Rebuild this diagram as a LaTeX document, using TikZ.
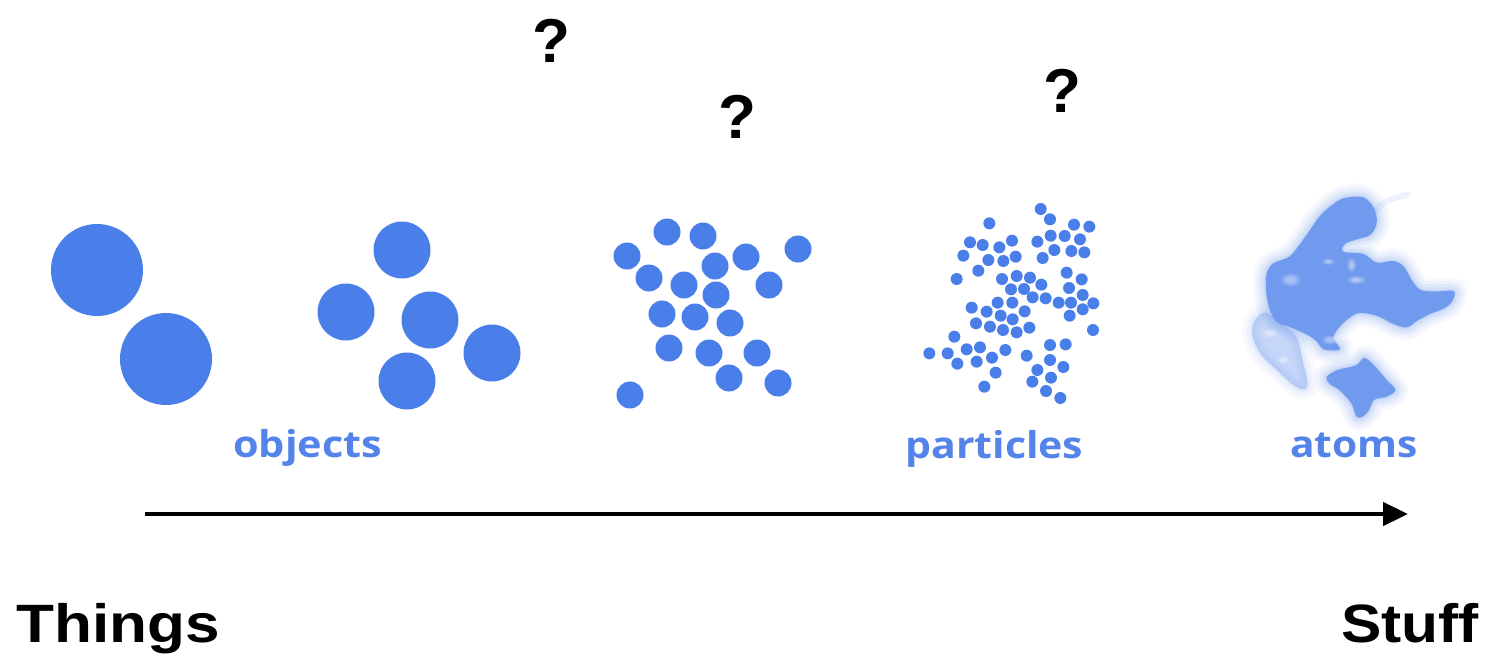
\documentclass[tikz,border=0pt]{standalone}
\usepackage{fontspec}
\setmainfont{Liberation Sans}
\newfontfamily\labelfont{Open Sans}
\usetikzlibrary{arrows.meta}
\definecolor{dotblue}{RGB}{74,127,234}
\definecolor{labelblue}{RGB}{84,132,234}
\definecolor{hazeblue}{RGB}{112,154,238}

% outlines of the diffuse "atoms" cloud, in a 3x local grid
\def\coreblob{plot[smooth cycle, tension=0.55] coordinates {
  (300,80) (340,55) (400,52) (432,85) (440,130) (420,165) (380,178)
  (345,192) (340,215) (400,222) (440,248) (490,243) (522,260) (545,300)
  (572,330) (620,334) (672,334) (665,366) (640,386) (600,402) (562,422)
  (530,442) (490,432) (452,412) (420,402) (382,400) (350,420) (325,445)
  (310,475) (330,508) (282,508) (258,482) (228,462) (182,442) (140,425)
  (118,385) (108,330) (110,280) (130,250) (178,230) (210,192) (240,150)
  (268,110)}}
\def\tailblob{plot[smooth cycle, tension=0.6] coordinates {
  (72,425) (105,398) (150,428) (198,470) (218,540) (232,618) (200,622)
  (142,572) (92,522) (68,470)}}
\def\lowblob{plot[smooth cycle, tension=0.6] coordinates {
  (290,592) (322,570) (378,556) (402,534) (432,556) (470,600) (496,630)
  (470,650) (432,660) (412,698) (382,712) (364,670) (330,632) (300,612)}}

\begin{document}
\begin{tikzpicture}[x=1pt,y=-1pt,
  dot/.style={fill=dotblue},
  haze/.style={fill=hazeblue},
  tag/.style={text=labelblue, font=\labelfont\bfseries\fontsize{37}{37}\selectfont,
              inner sep=0pt, anchor=base west},
  bigword/.style={font=\bfseries\fontsize{54}{54}\selectfont, inner sep=0pt,
                  anchor=base west},
  ask/.style={font=\bfseries\fontsize{62}{62}\selectfont, inner sep=0pt,
              anchor=base}]
\fill[white] (0,0) rectangle (1487,659);
\useasboundingbox (0,0) rectangle (1487,659);

% two large objects
\fill[dot] (97,270) circle[radius=46pt];
\fill[dot] (166,359) circle[radius=46pt];

% five objects
\foreach \a/\b in {402/250, 346/312, 430/320, 492/353, 407/381}
  \fill[dot] (\a,\b) circle[radius=28.5pt];

% nineteen smaller pieces
\foreach \a/\b in {667/232, 703/236, 627/256, 746/257, 798/249, 715/266,
  649/278, 684/285, 769/285, 716/295, 662/314, 695/317, 730/323, 669/348,
  709/353, 757/353, 729/378, 778/383, 630/395}
  \fill[dot] (\a,\b) circle[radius=13.5pt];

% particles
\foreach \a/\b in {422/57, 450/88, 268/100, 522/104, 568/110, 452/137,
  494/138, 540/148, 210/157, 248/165, 298/172, 336/152, 412/155, 463/180,
  514/183, 553/187, 190/197, 265/210, 310/213, 347/200, 428/204, 235/242,
  500/248, 170/267, 306/267, 350/258, 390/263, 424/284, 545/268, 333/298,
  372/297, 398/322, 437/325, 476/338, 507/294, 548/315, 513/338, 580/340,
  293/338, 337/338, 215/353, 260/365, 302/377, 338/388, 374/364, 548/358,
  509/377, 228/400, 270/410, 309/420, 350/427, 388/413, 579/420, 163/440,
  450/465, 497/463, 88/490, 143/490, 200/478, 240/472, 316/480, 380/497,
  172/521, 230/515, 276/503, 450/510, 490/531, 412/540, 287/548, 453/563,
  397/575, 253/590, 438/603, 481/624}
  \fill[dot] (900+\a/3,190+\b/3) circle[radius=6pt];

% atoms: a soft-edged cloud, built up from faint strokes
\begin{scope}[shift={(1230,180)}, scale=1/3]
  \foreach \w/\o in {26/0.05, 20/0.07, 14/0.09, 8/0.12, 3/0.15}{
    \draw[hazeblue, line width=\w pt, opacity=\o, line join=round] \coreblob;
    \draw[hazeblue, line width=\w pt, opacity=\o, line join=round] \lowblob;
  }
  \fill[haze] \coreblob;
  \fill[haze] \lowblob;
  \foreach \w/\o in {20/0.05, 12/0.07, 5/0.08}
    \draw[hazeblue, line width=\w pt, opacity=\o, line join=round] \tailblob;
  \fill[haze, opacity=0.4] \tailblob;
  \draw[hazeblue, line width=6pt, opacity=0.12, line cap=round]
    (430,95) .. controls (470,60) .. (532,44);
  \foreach \r/\o in {1/0.12, 0.75/0.15, 0.5/0.2}{
    \fill[white, opacity=\o] (182,300) ellipse[x radius=30*\r, y radius=20*\r];
    \fill[white, opacity=\o] (365,255) ellipse[x radius=14*\r, y radius=22*\r];
    \fill[white, opacity=\o] (380,300) ellipse[x radius=28*\r, y radius=12*\r];
    \fill[white, opacity=\o] (295,245) ellipse[x radius=18*\r, y radius=10*\r];
    \fill[white, opacity=\o] (300,480) ellipse[x radius=24*\r, y radius=14*\r];
    \fill[white, opacity=\o] (120,460) ellipse[x radius=26*\r, y radius=14*\r];
    \fill[white, opacity=\o] (160,540) ellipse[x radius=20*\r, y radius=12*\r];
  }
\end{scope}

% labels
\node[tag] (objects) at (233,457) {\scalebox{1.12}[1]{objects}};
\node[tag] (particles) at (905,458) {\scalebox{1.11}[1]{particles}};
\node[tag] (atoms) at (1290,457) {\scalebox{1.1}[1]{atoms}};

% question marks
\node[ask] (q1) at (551,62) {?};
\node[ask] (q2) at (737,138) {?};
\node[ask] (q3) at (1062,112) {?};

% the scale from things to stuff
\coordinate (from) at (145,514);
\coordinate (to) at (1408,514);
\draw[line width=4.5pt, -{Triangle[length=25pt,width=23pt]}] (from) -- (to);

\node[bigword] (things) at (16,642) {\scalebox{1.15}[1]{Things}};
\node[bigword, anchor=base east] (stuff) at (1479,642) {\scalebox{1.12}[1]{Stuff}};
\end{tikzpicture}
\end{document}
